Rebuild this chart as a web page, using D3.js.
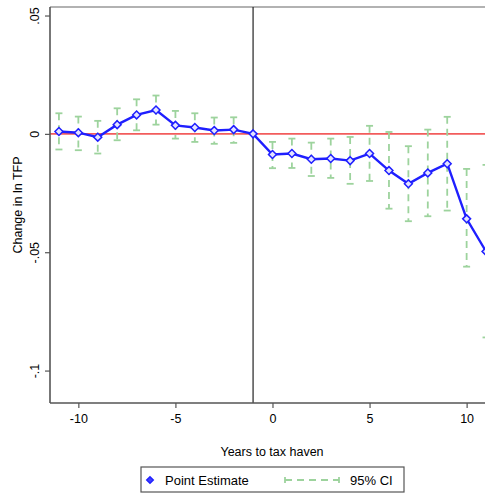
<!DOCTYPE html>
<html>
<head>
<meta charset="utf-8">
<script src="https://cdn.jsdelivr.net/npm/d3@7"></script>
<style>
  html, body { margin: 0; padding: 0; background: #fff; overflow: hidden; }
  text { font-family: "Liberation Sans", Arial, sans-serif; }
</style>
</head>
<body>
<svg id="chart" width="485" height="493"></svg>
<script>
// years relative to tax haven event
var years = [-11, -10, -9, -8, -7, -6, -5, -4, -3, -2, -1, 0, 1, 2, 3, 4, 5, 6, 7, 8, 9, 10, 11];
var estimate = [0.0010, 0.0005, -0.0014, 0.0039, 0.0080, 0.0101, 0.0036, 0.0027, 0.0014, 0.0018, 0.0000,
                -0.0087, -0.0083, -0.0107, -0.0104, -0.0113, -0.0083, -0.0155, -0.0211, -0.0165, -0.0126, -0.0359, -0.0497];
var ciHigh = [0.0087, 0.0073, 0.0055, 0.0108, 0.0146, 0.0162, 0.0097, 0.0087, 0.0069, 0.0070, null,
              -0.0034, -0.0020, -0.0037, -0.0020, -0.0013, 0.0034, 0.0008, -0.0052, 0.0018, 0.0072, -0.0148, -0.0131];
var ciLow = [-0.0066, -0.0069, -0.0083, -0.0027, 0.0015, 0.0039, -0.0020, -0.0034, -0.0042, -0.0038, null,
             -0.0145, -0.0144, -0.0178, -0.0186, -0.0211, -0.0199, -0.0316, -0.0369, -0.0348, -0.0324, -0.0561, -0.0860];
var xTicks = [-10, -5, 0, 5, 10];
var xTickLabels = ["-10", "-5", "0", "5", "10"];
var yTicks = [0.05, 0, -0.05, -0.1];
var yTickLabels = [".05", "0", "-.05", "-.1"];
var eventYear = -1;

var svg = d3.select("#chart");
var pLeft = 50, pTop = 7, pRight = 494, pBottom = 403;

var x = d3.scaleLinear().domain([-11.46, 11.41]).range([pLeft, pRight]);
var y = d3.scaleLinear().domain([0.0536, -0.1137]).range([pTop, pBottom]);

var blue = "#1f1fff", green = "#9dd39d", axisCol = "#555";

// frame top line
svg.append("line")
  .attr("x1", pLeft).attr("x2", pRight).attr("y1", pTop).attr("y2", pTop)
  .attr("stroke", "#666").attr("stroke-width", 1.2);

// zero line
svg.append("line")
  .attr("x1", pLeft).attr("x2", pRight).attr("y1", y(0)).attr("y2", y(0))
  .attr("stroke", "#f25c5c").attr("stroke-width", 1.8);

// event line
svg.append("line")
  .attr("x1", x(eventYear)).attr("x2", x(eventYear)).attr("y1", pTop).attr("y2", pBottom)
  .attr("stroke", "#222").attr("stroke-width", 1.2);

// axes
var xAxis = svg.append("g")
  .attr("transform", "translate(0," + pBottom + ")")
  .call(d3.axisBottom(x).tickValues(xTicks).tickSize(5).tickPadding(6)
    .tickFormat(function(d, i) { return xTickLabels[i]; }));
var yAxis = svg.append("g")
  .attr("transform", "translate(" + pLeft + ",0)")
  .call(d3.axisLeft(y).tickValues(yTicks).tickSize(5)
    .tickFormat(function(d, i) { return yTickLabels[i]; }));

[xAxis, yAxis].forEach(function(g) {
  g.select(".domain").attr("stroke", axisCol).attr("stroke-width", 1.6);
  g.selectAll(".tick line").attr("stroke", axisCol).attr("stroke-width", 1.2);
  g.selectAll("text").attr("fill", "#000").style("font-size", "12.5px")
    .style("font-family", "'Liberation Sans', Arial, sans-serif");
});
xAxis.select(".domain").attr("d", "M" + pLeft + ",0H" + pRight);
yAxis.select(".domain").attr("d", "M0," + pTop + "V" + pBottom);
yAxis.selectAll(".tick text")
  .attr("text-anchor", "middle")
  .attr("x", 0).attr("dy", null)
  .attr("transform", "translate(-11,0) rotate(-90)");

// confidence intervals
var ci = years.map(function(d, i) { return { year: d, lo: ciLow[i], hi: ciHigh[i] }; })
  .filter(function(d) { return d.lo != null; });
var ciG = svg.append("g").attr("stroke", green).attr("stroke-width", 1.8);
ciG.selectAll("line.bar").data(ci).enter().append("line")
  .attr("x1", function(d) { return x(d.year); }).attr("x2", function(d) { return x(d.year); })
  .attr("y1", function(d) { return y(d.hi); }).attr("y2", function(d) { return y(d.lo); })
  .attr("stroke-dasharray", "7,5");
ciG.selectAll("line.capHi").data(ci).enter().append("line")
  .attr("x1", function(d) { return x(d.year) - 3.5; }).attr("x2", function(d) { return x(d.year) + 3.5; })
  .attr("y1", function(d) { return y(d.hi); }).attr("y2", function(d) { return y(d.hi); });
ciG.selectAll("line.capLo").data(ci).enter().append("line")
  .attr("x1", function(d) { return x(d.year) - 3.5; }).attr("x2", function(d) { return x(d.year) + 3.5; })
  .attr("y1", function(d) { return y(d.lo); }).attr("y2", function(d) { return y(d.lo); });

// point estimate line
var pts = years.map(function(d, i) { return { year: d, v: estimate[i] }; });
svg.append("path").datum(pts)
  .attr("fill", "none").attr("stroke", blue).attr("stroke-width", 2.4)
  .attr("d", d3.line().x(function(d) { return x(d.year); }).y(function(d) { return y(d.v); }));

var diamond = d3.symbol().type(d3.symbolDiamond2).size(40);
svg.selectAll("path.mk").data(pts).enter().append("path")
  .attr("class", "mk")
  .attr("transform", function(d) { return "translate(" + x(d.year) + "," + y(d.v) + ")"; })
  .attr("d", diamond)
  .attr("fill", "#e4e4ff")
  .attr("stroke", blue).attr("stroke-width", 1.5);

// axis titles
svg.append("text")
  .attr("x", 272).attr("y", 456).attr("text-anchor", "middle")
  .style("font-size", "12.5px").text("Years to tax haven");
svg.append("text")
  .attr("transform", "translate(22," + ((pTop + pBottom) / 2) + ") rotate(-90)")
  .attr("text-anchor", "middle")
  .style("font-size", "12.5px").text("Change in ln TFP");

// legend
var lg = svg.append("g");
lg.append("rect").attr("x", 141).attr("y", 467).attr("width", 263).attr("height", 25)
  .attr("fill", "#fff").attr("stroke", "#555").attr("stroke-width", 1.2);
lg.append("path")
  .attr("transform", "translate(150,480)")
  .attr("d", d3.symbol().type(d3.symbolDiamond2).size(28))
  .attr("fill", "#4040ff").attr("stroke", blue).attr("stroke-width", 1.4);
lg.append("text").attr("x", 165).attr("y", 484.5).style("font-size", "13px").text("Point Estimate");
lg.append("line").attr("x1", 285).attr("x2", 339).attr("y1", 480).attr("y2", 480)
  .attr("stroke", green).attr("stroke-width", 1.8).attr("stroke-dasharray", "7,5");
lg.append("line").attr("x1", 285).attr("x2", 285).attr("y1", 477).attr("y2", 483)
  .attr("stroke", green).attr("stroke-width", 1.8);
lg.append("line").attr("x1", 339).attr("x2", 339).attr("y1", 477).attr("y2", 483)
  .attr("stroke", green).attr("stroke-width", 1.8);
lg.append("text").attr("x", 350).attr("y", 484.5).style("font-size", "13px").text("95% CI");
</script>
</body>
</html>
